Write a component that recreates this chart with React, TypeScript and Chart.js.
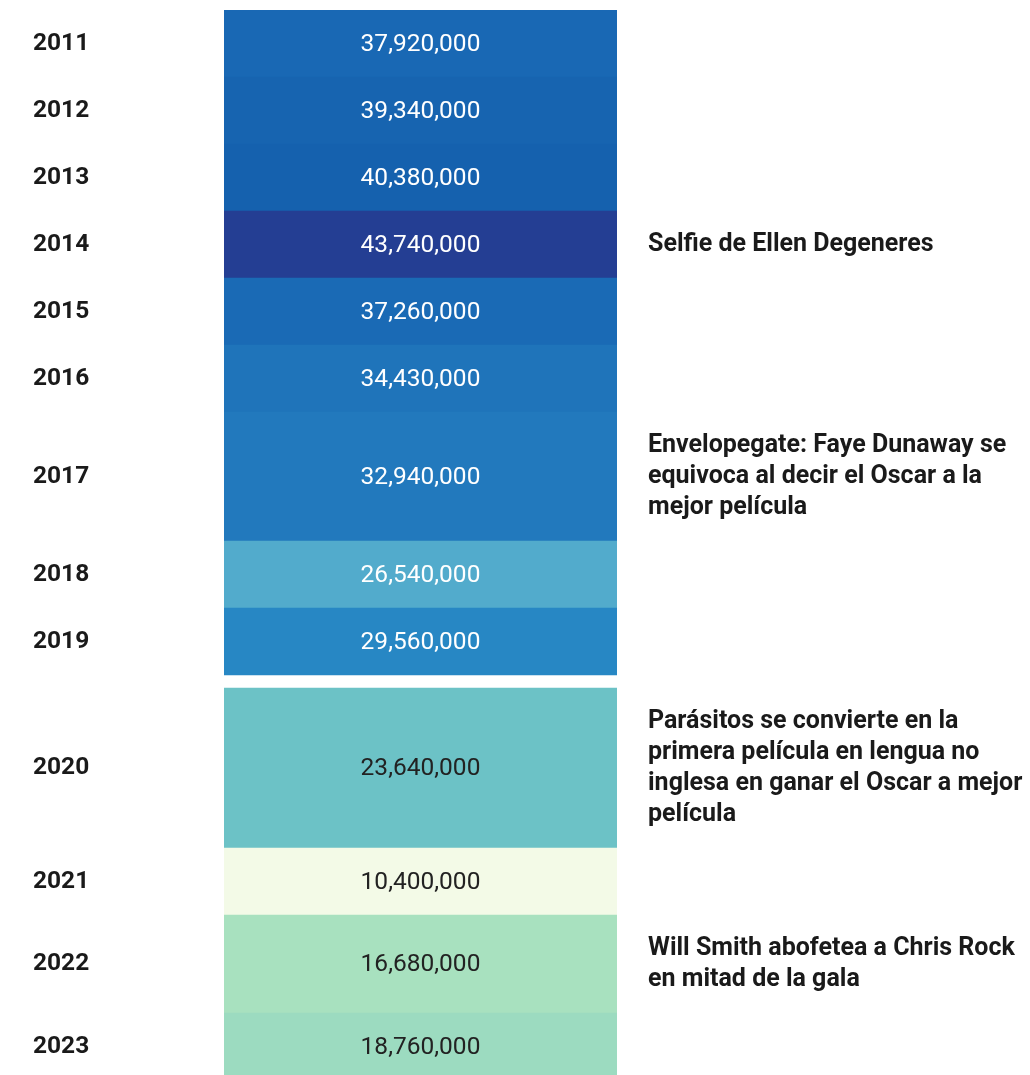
import React, { useEffect, useRef } from 'react';
import { Chart, registerables } from 'chart.js';

Chart.register(...registerables);

// ---- Data ----
const YEARS: number[] = [2011, 2012, 2013, 2014, 2015, 2016, 2017, 2018, 2019, 2020, 2021, 2022, 2023];
const VIEWERS: number[] = [
  37920000, 39340000, 40380000, 43740000, 37260000, 34430000, 32940000,
  26540000, 29560000, 23640000, 10400000, 16680000, 18760000,
];
const EVENT_YEARS: number[] = [2014, 2017, 2020, 2022];
const EVENT_LINES: string[][] = [
  ['Selfie de Ellen Degeneres'],
  ['Envelopegate: Faye Dunaway se', 'equivoca al decir el Oscar a la', 'mejor película'],
  ['Parásitos se convierte en la', 'primera película en lengua no', 'inglesa en ganar el Oscar a mejor', 'película'],
  ['Will Smith abofetea a Chris Rock', 'en mitad de la gala'],
];
// the reference joins two tables; the second starts here
const SECTION_START_YEAR = 2020;

// colour scale (viewers -> fill)
const COLOR_STOPS: [number, string][] = [
  [10400000, '#f3fae7'],
  [16680000, '#a8e1bf'],
  [18760000, '#9cdbc0'],
  [23640000, '#6cc2c6'],
  [26540000, '#52abcc'],
  [29560000, '#2787c4'],
  [32940000, '#2279bd'],
  [37260000, '#1a6ab5'],
  [40380000, '#1561ae'],
  [43740000, '#243e93'],
];

// ---- Layout constants ----
const W = 1030;
const VIEW_H = 1075;
const TOP = 10;
const YEAR_LABEL_X = 33;
const CELL_LEFT = 224;
const CELL_RIGHT = 617;
const MIN_ROW = 67;
const LINE_H = 31;
const ROW_PAD = 36;
const SECTION_GAP = 13;

function hexToRgb(h: string): number[] {
  const n = parseInt(h.slice(1), 16);
  return [(n >> 16) & 255, (n >> 8) & 255, n & 255];
}
function colorFor(v: number): string {
  if (v <= COLOR_STOPS[0][0]) return COLOR_STOPS[0][1];
  for (let i = 1; i < COLOR_STOPS.length; i++) {
    const [v1, c1] = COLOR_STOPS[i];
    const [v0, c0] = COLOR_STOPS[i - 1];
    if (v <= v1) {
      const t = (v - v0) / (v1 - v0);
      const a = hexToRgb(c0), b = hexToRgb(c1);
      const m = a.map((x, k) => Math.round(x + (b[k] - x) * t));
      return `rgb(${m[0]},${m[1]},${m[2]})`;
    }
  }
  return COLOR_STOPS[COLOR_STOPS.length - 1][1];
}

// rows: height grows with the annotation's line count
const rows = (() => {
  let pos = 0;
  return YEARS.map((yr) => {
    if (yr === SECTION_START_YEAR) pos += SECTION_GAP;
    const ei = EVENT_YEARS.indexOf(yr);
    const lines = ei >= 0 ? EVENT_LINES[ei].length : 0;
    const h = Math.max(MIN_ROW, lines * LINE_H + ROW_PAD);
    const r = { start: pos, end: pos + h, center: pos + h / 2 };
    pos += h;
    return r;
  });
})();
const TOTAL = rows[rows.length - 1].end;
const ROW_CENTERS = rows.map((r) => r.center);
const EVENT_CENTERS = EVENT_YEARS.map((y) => rows[YEARS.indexOf(y)].center);

const fmt = (v: number) => v.toLocaleString('en-US');

const valueLabels = {
  id: 'valueLabels',
  afterDatasetsDraw(chart: any) {
    const ctx = chart.ctx;
    const meta = chart.getDatasetMeta(0);
    ctx.save();
    ctx.font = '400 24.5px Roboto';
    ctx.textAlign = 'center';
    ctx.textBaseline = 'middle';
    meta.data.forEach((bar: any, i: number) => {
      const p = bar.getProps(['x', 'y', 'base'], true);
      ctx.fillStyle = VIEWERS[i] > 25000000 ? '#ffffff' : '#222222';
      ctx.fillText(fmt(VIEWERS[i]), p.x, (p.y + p.base) / 2 + 1);
    });
    ctx.restore();
  },
};

const noEdgePadding = (s: any) => {
  s.paddingTop = 0;
  s.paddingBottom = 0;
};

export default function App() {
  const ref = useRef<HTMLCanvasElement | null>(null);
  useEffect(() => {
    if (!ref.current) return;
    const chart = new Chart(ref.current, {
      type: 'bar',
      data: {
        labels: ['celdas'],
        datasets: [
          {
            label: 'Espectadores',
            data: rows.map((r) => ({ x: 'celdas', y: [r.start, r.end] })) as any,
            backgroundColor: VIEWERS.map(colorFor),
            borderWidth: 0,
            borderSkipped: false,
            categoryPercentage: 1,
            barPercentage: 1,
            yAxisID: 'y',
          },
        ],
      },
      options: {
        responsive: false,
        animation: false,
        events: [],
        layout: { padding: { left: YEAR_LABEL_X, top: TOP, right: 0, bottom: 0 } },
        plugins: { legend: { display: false }, tooltip: { enabled: false }, title: { display: false } },
        scales: {
          x: { type: 'category', offset: true, display: false },
          y: {
            type: 'linear',
            position: 'left',
            reverse: true,
            min: 0,
            max: TOTAL,
            grid: { display: false, drawTicks: false },
            border: { display: false },
            afterBuildTicks: (s: any) => {
              s.ticks = ROW_CENTERS.map((v) => ({ value: v }));
            },
            afterFit: (s: any) => {
              s.width = CELL_LEFT - YEAR_LABEL_X;
              noEdgePadding(s);
            },
            ticks: {
              autoSkip: false,
              crossAlign: 'far',
              padding: 0,
              color: '#1a1a1a',
              font: { family: 'Roboto', size: 24.5, weight: 'bold' },
              callback: (_v: any, i: number) => String(YEARS[i]),
            },
          },
          y2: {
            type: 'linear',
            position: 'right',
            reverse: true,
            min: 0,
            max: TOTAL,
            grid: { display: false, drawTicks: false },
            border: { display: false },
            afterBuildTicks: (s: any) => {
              s.ticks = EVENT_CENTERS.map((v) => ({ value: v }));
            },
            afterFit: (s: any) => {
              s.width = W - CELL_RIGHT;
              noEdgePadding(s);
            },
            ticks: {
              autoSkip: false,
              crossAlign: 'near',
              padding: 31,
              color: '#1a1a1a',
              font: { family: 'Roboto', size: 25, weight: 'bold', lineHeight: '31px' },
              callback: (_v: any, i: number) => EVENT_LINES[i],
            },
          },
        },
      },
      plugins: [valueLabels],
    });
    return () => chart.destroy();
  }, []);

  return (
    <div style={{ position: 'absolute', left: 0, top: 0, width: W, height: VIEW_H, overflow: 'hidden', background: '#fff' }}>
      <canvas ref={ref} width={W} height={TOP + TOTAL} style={{ display: 'block' }} />
    </div>
  );
}
